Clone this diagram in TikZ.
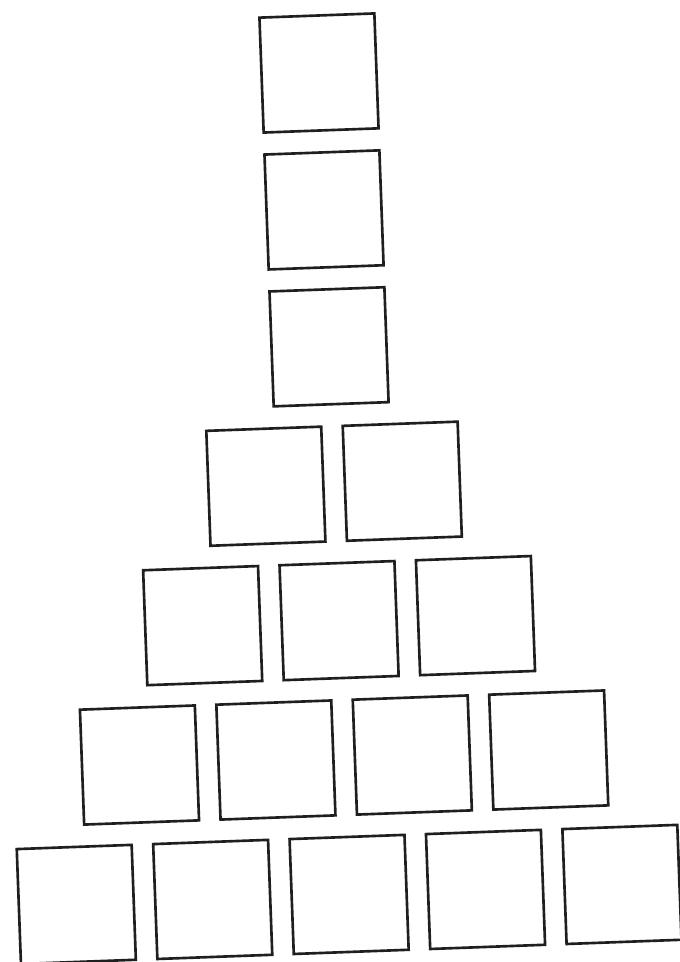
\documentclass[tikz,border=0pt]{standalone}
\usepackage{tikz}
\usetikzlibrary{positioning}

\begin{document}
\begin{tikzpicture}[
  x=0.02cm, y=0.02cm,
  box/.style={draw=black!88, line width=1.5pt, fill=white, minimum size=2.3cm, inner sep=0pt, transform shape}
]
  \useasboundingbox[fill=white] (0,0) rectangle (679,-962);

  \begin{scope}[shift={(319,-73)}, rotate=2.1]
    % Column of single squares
    \node[box] (c1) at (0,0) {};
    \node[box] (c2) at (0,-137) {};
    \node[box] (c3) at (0,-274) {};

    % Row of two
    \node[box] (b1) at (-68.25,-411) {};
    \node[box] (b2) at (68.25,-411) {};

    % Row of three
    \node[box] (t1) at (-136.5,-548) {};
    \node[box] (t2) at (0,-548) {};
    \node[box] (t3) at (136.5,-548) {};

    % Row of four
    \node[box] (f1) at (-204.75,-685) {};
    \node[box] (f2) at (-68.25,-685) {};
    \node[box] (f3) at (68.25,-685) {};
    \node[box] (f4) at (204.75,-685) {};

    % Row of five
    \node[box] (v1) at (-273,-822) {};
    \node[box] (v2) at (-136.5,-822) {};
    \node[box] (v3) at (0,-822) {};
    \node[box] (v4) at (136.5,-822) {};
    \node[box] (v5) at (273,-822) {};
  \end{scope}
\end{tikzpicture}
\end{document}
